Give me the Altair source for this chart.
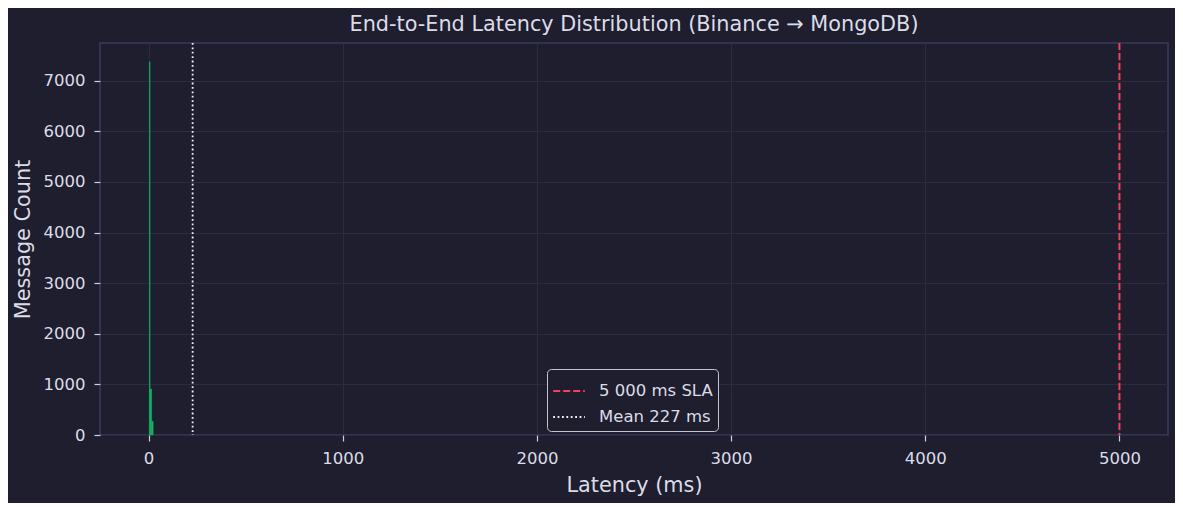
import altair as alt
import pandas as pd

# histogram bins (ms) and counts
bin_start = [4, 8, 16]
bin_end = [8, 16, 24]
counts = [7375, 910, 270]

# reference lines
line_labels = ["5 000 ms SLA", "Mean 227 ms"]
line_values = [5000, 227]
line_colors = ["#f43f5e", "#f2f2f7"]
line_dashes = [[7, 3], [1.8, 2.6]]

x_ticks = [0, 1000, 2000, 3000, 4000, 5000]
y_ticks = [0, 1000, 2000, 3000, 4000, 5000, 6000, 7000]

BG = "#1e1e2e"
GRID = "#2b2b44"
SPINE = "#3a3a5e"
TXT = "#dcdce8"
FONT = "DejaVu Sans"

hist = pd.DataFrame({"start": bin_start, "end": bin_end, "count": counts})
sla = pd.DataFrame({"x": [line_values[0]], "series": [line_labels[0]]})
mean = pd.DataFrame({"x": [line_values[1]], "series": [line_labels[1]]})

xscale = alt.Scale(domain=[-250, 5250], nice=False, zero=False)
yscale = alt.Scale(domain=[0, 7745], nice=False)

bars = alt.Chart(hist).mark_rect(color="#12b866", stroke="#12b866", strokeWidth=0.4).encode(
    x=alt.X("start:Q", scale=xscale,
            axis=alt.Axis(values=x_ticks, format="d", title="Latency (ms)")),
    x2="end:Q",
    y=alt.Y("count:Q", scale=yscale,
            axis=alt.Axis(values=y_ticks, format="d", title="Message Count")),
    y2=alt.datum(0),
)

color_scale = alt.Scale(domain=line_labels, range=line_colors)
dash_scale = alt.Scale(domain=line_labels, range=line_dashes)

legend = alt.Legend(
    title=None, orient="none", legendX=447, legendY=326,
    symbolType="stroke", symbolSize=1000, symbolStrokeWidth=2,
    labelFontSize=16.5, labelColor=TXT, labelFont=FONT, labelOffset=13,
    rowPadding=0, padding=5, fillColor=BG, strokeColor="#c4c4cc",
    cornerRadius=4,
)

sla_rule = alt.Chart(sla).mark_rule(strokeWidth=2).encode(
    x=alt.X("x:Q", scale=xscale),
    color=alt.Color("series:N", scale=color_scale, legend=legend),
    strokeDash=alt.StrokeDash("series:N", scale=dash_scale, legend=legend),
)
mean_rule = alt.Chart(mean).mark_rule(strokeWidth=1.8).encode(
    x=alt.X("x:Q", scale=xscale),
    color=alt.Color("series:N", scale=color_scale, legend=legend),
    strokeDash=alt.StrokeDash("series:N", scale=dash_scale, legend=legend),
)

chart = alt.layer(bars, sla_rule, mean_rule).properties(
    width=1068, height=392,
    autosize=alt.AutoSizeParams(type="none"),
    padding={"left": 92, "top": 35, "right": 7, "bottom": 68},
    title=alt.Title("End-to-End Latency Distribution (Binance → MongoDB)",
                    fontSize=20.8, font=FONT, fontWeight="normal",
                    color=TXT, offset=6),
).configure(background=BG).configure_view(
    stroke=SPINE, strokeWidth=1.5, fill=BG
).configure_axis(
    gridColor=GRID, gridWidth=1, domain=False,
    tickColor="#cfcfdc", tickSize=6, tickWidth=1.2,
    labelColor=TXT, labelFont=FONT, labelFontSize=16.5,
    titleColor=TXT, titleFont=FONT, titleFontSize=20.8, titleFontWeight="normal",
    labelFlush=False,
).configure_axisX(labelPadding=9, titlePadding=9).configure_axisY(
    labelPadding=9, titlePadding=10)

chart.save("out.html", embed_options={"renderer": "svg", "actions": False})
